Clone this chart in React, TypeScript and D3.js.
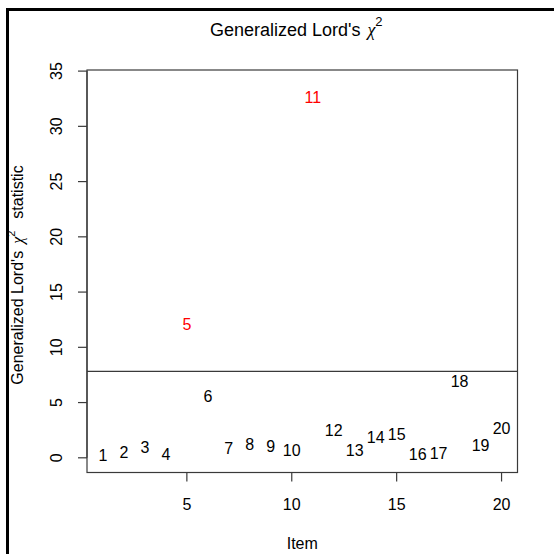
import React from "react";
import * as d3 from "d3";

const items = [1, 2, 3, 4, 5, 6, 7, 8, 9, 10, 11, 12, 13, 14, 15, 16, 17, 18, 19, 20];
const stats = [0.2, 0.54, 0.97, 0.3, 12.05, 5.55, 0.88, 1.18, 1.03, 0.66, 32.67, 2.47, 0.72, 1.87, 2.17, 0.33, 0.42, 6.91, 1.09, 2.63];
const flagged = [5, 11];
const threshold = 7.82;
const xTicks = [5, 10, 15, 20];
const yTicks = [0, 5, 10, 15, 20, 25, 30, 35];

const W = 554;
const H = 554;
const left = 87;
const right = 517.5;
const top = 70;
const bottom = 472.5;
const FONT = "'Liberation Sans', Arial, sans-serif";
const FS = 16;
const LINE = "#3a3a3a";
const TXT = "#000";

export default function App() {
  const x = d3.scaleLinear().domain([0.24, 20.76]).range([left, right]);
  const y = d3.scaleLinear().domain([-1.33, 35.1]).range([bottom, top]);
  const capMid = (0.716 * FS) / 2;

  return (
    <div style={{ position: "fixed", left: 0, top: 0, width: W, height: H, background: "#fff" }}>
      <svg width={W} height={H} style={{ display: "block" }} fontFamily={FONT}>
        <rect x={0} y={0} width={W} height={H} fill="#fff" />
        {/* outer frame */}
        <line x1={6} x2={W} y1={9.5} y2={9.5} stroke="#000" strokeWidth={3} />
        <line x1={7.5} x2={7.5} y1={8} y2={H} stroke="#000" strokeWidth={3} />

        {/* title */}
        <text x={(left + right) / 2 - 6} y={36} textAnchor="middle" fontSize={18} fill={TXT}>
          Generalized Lord's{" "}
          <tspan fontFamily="'Liberation Serif', 'DejaVu Serif', serif" fontStyle="italic" dx={2}>χ</tspan>
          <tspan fontSize={13} dy={-10}>2</tspan>
        </text>

        {/* plot box */}
        <rect x={left} y={top} width={right - left} height={bottom - top} fill="none" stroke={LINE} strokeWidth={1.2} />

        {/* threshold */}
        <line x1={left} x2={right} y1={y(threshold)} y2={y(threshold)} stroke={LINE} strokeWidth={1.2} />

        {/* x axis */}
        <line x1={x(xTicks[0])} x2={x(xTicks[xTicks.length - 1])} y1={bottom} y2={bottom} stroke={LINE} strokeWidth={1.2} />
        {xTicks.map((t) => (
          <g key={"xt" + t}>
            <line x1={x(t)} x2={x(t)} y1={bottom} y2={bottom + 9} stroke={LINE} strokeWidth={1.2} />
            <text x={x(t)} y={510} textAnchor="middle" fontSize={FS} fill={TXT}>{t}</text>
          </g>
        ))}
        <text x={(left + right) / 2} y={549} textAnchor="middle" fontSize={FS} fill={TXT}>Item</text>

        {/* y axis */}
        <line x1={left} x2={left} y1={y(yTicks[0])} y2={y(yTicks[yTicks.length - 1])} stroke={LINE} strokeWidth={1.2} />
        {yTicks.map((t) => (
          <g key={"yt" + t}>
            <line x1={left - 9} x2={left} y1={y(t)} y2={y(t)} stroke={LINE} strokeWidth={1.2} />
            <text
              transform={`translate(${62},${y(t)}) rotate(-90)`}
              textAnchor="middle"
              fontSize={FS}
              fill={TXT}
            >
              {t}
            </text>
          </g>
        ))}
        <text
          transform={`translate(${23},${275}) rotate(-90)`}
          textAnchor="middle"
          fontSize={FS}
          fill={TXT}
        >
          Generalized Lord's
          <tspan fontFamily="'Liberation Serif', 'DejaVu Serif', serif" fontStyle="italic" dx={7}>χ</tspan>
          <tspan fontSize={11} dy={-8}>2</tspan>
          <tspan dy={8} dx={12}>statistic</tspan>
        </text>

        {/* item labels */}
        {items.map((it, i) => (
          <text
            key={"lab" + it}
            x={x(it)}
            y={y(stats[i]) + capMid}
            textAnchor="middle"
            fontSize={FS}
            fill={flagged.includes(it) ? "#ff0000" : TXT}
          >
            {it}
          </text>
        ))}
      </svg>
    </div>
  );
}
